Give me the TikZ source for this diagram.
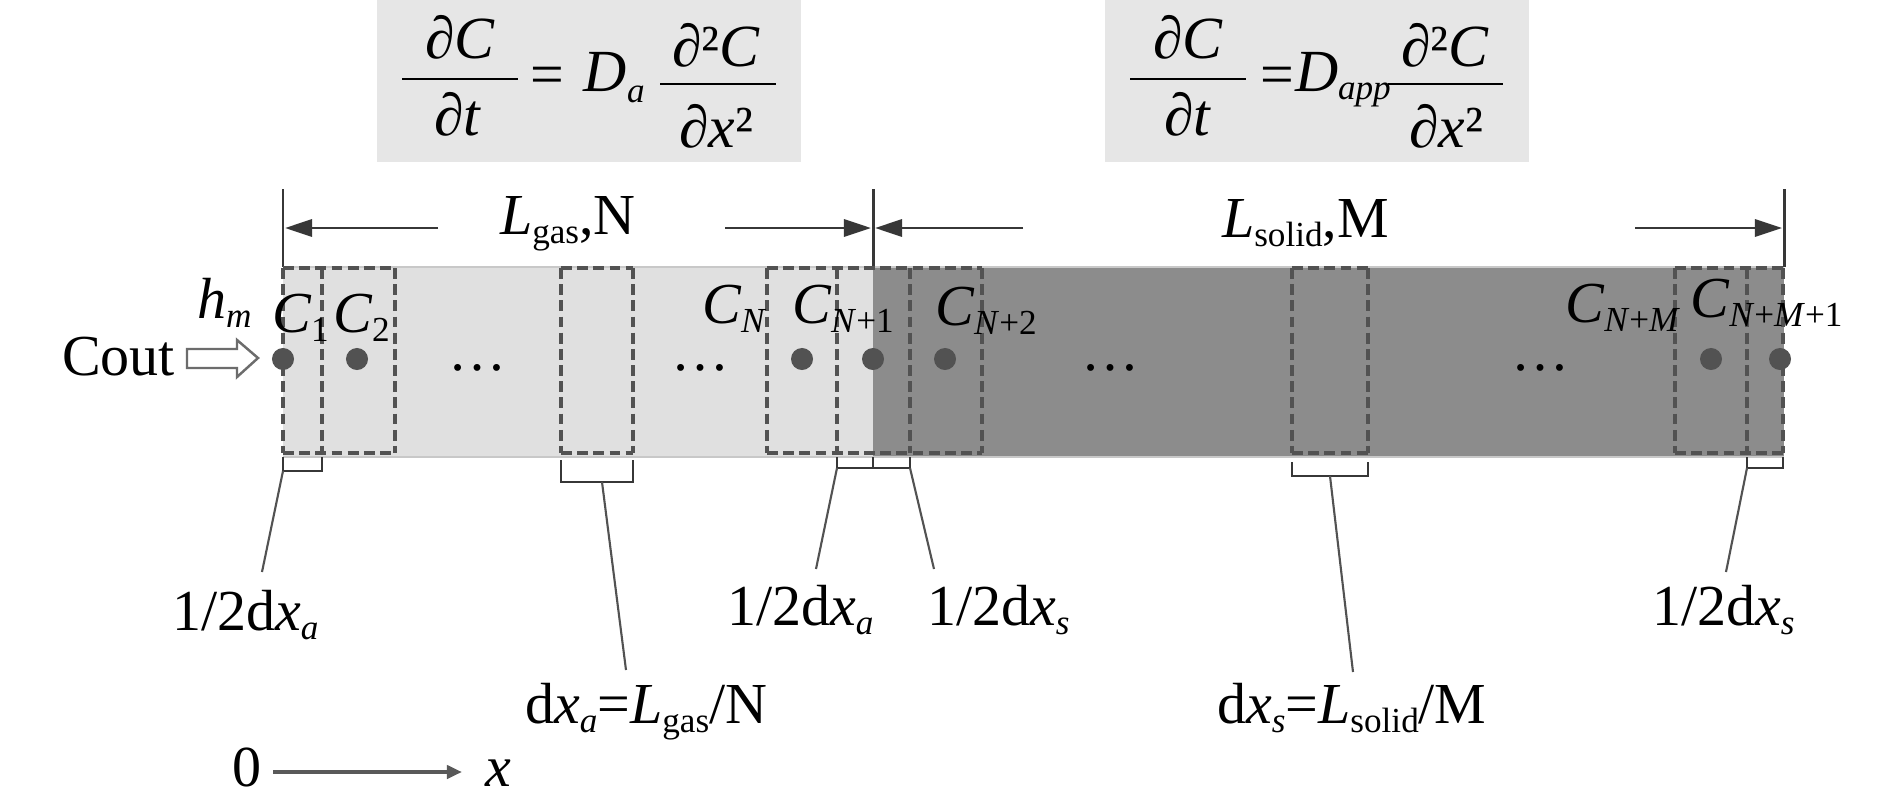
\documentclass[tikz,border=0pt]{standalone}
\usepackage{fontspec}
\setmainfont{Liberation Serif}
\usetikzlibrary{arrows.meta}
\definecolor{lightbar}{RGB}{224,224,224}
\definecolor{darkbar}{RGB}{140,140,140}
\definecolor{eqbg}{RGB}{230,230,230}
\definecolor{dashc}{RGB}{82,82,82}
\definecolor{linec}{RGB}{55,55,55}
\definecolor{edgec}{RGB}{200,200,200}
\newcommand{\mfs}{\fontsize{16.5}{19}\selectfont}
\newcommand{\efs}{\fontsize{17}{20}\selectfont}
\newcommand{\sfs}{\fontsize{10}{12}\selectfont}
\newcommand{\lo}[1]{\raisebox{-0.17em}{\sfs #1}}
\begin{document}
\begin{tikzpicture}[x=0.01cm,y=-0.01cm,
  txt/.style={inner sep=0pt, outer sep=0pt, font=\mfs, text=black},
  eqt/.style={inner sep=0pt, outer sep=0pt, font=\efs, text=black},
  eqbox/.style={fill=eqbg, draw=none},
  eqbar/.style={draw=black, line width=0.75pt},
  cell/.style={draw=dashc, line width=1.25pt, dash pattern=on 3.1pt off 1.5pt},
  dotc/.style={circle, fill=dashc, inner sep=0pt, minimum size=0.22cm},
  dimline/.style={draw=linec, line width=0.85pt},
  dimarrow/.style={dimline, -{Triangle[length=2.7mm,width=1.7mm]}},
  brk/.style={draw=linec, line width=0.8pt},
  leader/.style={draw=dashc, line width=0.6pt},
  hollow/.style={draw=gray!85!black, fill=white, line width=0.7pt}
]
\useasboundingbox (0,0) rectangle (1890,797);
\fill[white] (0,0) rectangle (1890,797);

% equation boxes
\fill[eqbox] (377,0) rectangle (801,162);
\fill[eqbox] (1105,0) rectangle (1529,162);

% left equation
\node[eqt, anchor=base] (e1n) at (460,58) {∂\textit{C}};
\draw[eqbar] (402,79) -- (518,79);
\node[eqt, anchor=base] (e1d) at (458,135) {∂\textit{t}};
\node[eqt, anchor=base] (e1eq) at (547,94) {=};
\node[eqt, anchor=base west] (e1D) at (583,91) {\textit{D}};
\node[txt, font=\sfs, anchor=base west] (e1a) at (627,102) {\textit{a}};
\draw[eqbar] (660,84) -- (776,84);
\node[eqt, anchor=base] (e2n) at (716,66) {∂²\textit{C}};
\node[eqt, anchor=base] (e2d) at (716,147) {∂\textit{x}²};

% right equation
\node[eqt, anchor=base] (e3n) at (1188,58) {∂\textit{C}};
\draw[eqbar] (1130,79) -- (1246,79);
\node[eqt, anchor=base] (e3d) at (1188,135) {∂\textit{t}};
\node[eqt, anchor=base] (e3eq) at (1277,94) {=};
\node[eqt, anchor=base west] (e3D) at (1295,91) {\textit{D}};
\node[txt, font=\sfs, anchor=base west] (e3a) at (1338,100) {\textit{app}};
\draw[eqbar] (1388,84) -- (1503,84);
\node[eqt, anchor=base] (e4n) at (1445,66) {∂²\textit{C}};
\node[eqt, anchor=base] (e4d) at (1446,147) {∂\textit{x}²};

% bar
\fill[lightbar] (283,267) rectangle (873,457);
\fill[darkbar] (873,267) rectangle (1784,457);
\draw[edgec, line width=0.8pt] (283,267) -- (1784,267);
\draw[edgec, line width=0.8pt] (283,457) -- (1784,457);

% dimension lines
\coordinate (v1t) at (283,189); \coordinate (v1b) at (283,267);
\coordinate (v2t) at (873,189); \coordinate (v2b) at (873,267);
\coordinate (v3t) at (1784,189); \coordinate (v3b) at (1784,267);
\draw[dimline] (v1t) -- (v1b);
\draw[dimline] (v2t) -- (v2b);
\draw[dimline] (v3t) -- (v3b);
\coordinate (a1s) at (438,228); \coordinate (a1e) at (285,228);
\coordinate (a2s) at (725,228); \coordinate (a2e) at (871,228);
\coordinate (a3s) at (1023,228); \coordinate (a3e) at (875,228);
\coordinate (a4s) at (1635,228); \coordinate (a4e) at (1782,228);
\draw[dimarrow] (a1s) -- (a1e);
\draw[dimarrow] (a2s) -- (a2e);
\draw[dimarrow] (a3s) -- (a3e);
\draw[dimarrow] (a4s) -- (a4e);
\node[txt, anchor=base west] (Lgas) at (500,234) {\textit{L}\lo{gas},N};
\node[txt, anchor=base west] (Lsol) at (1222,237) {\textit{L}\lo{solid},M};

% cells: vertical edges drawn once each, horizontal edges per group
\foreach \xx in {283,322,395,561,633,767,837,910,982,1292,1368,1675,1747,1783}
  \draw[cell] (\xx,268) -- (\xx,453);
\foreach \xa/\xb in {283/395,561/633,767/982,1292/1368,1675/1783} {
  \draw[cell] (\xa,268) -- (\xb,268);
  \draw[cell] (\xa,453) -- (\xb,453);
}

% nodes (points)
\node[dotc] (d1) at (283,359) {};
\node[dotc] (d2) at (357,359) {};
\node[dotc] (dN) at (802,359) {};
\node[dotc] (dN1) at (873,359) {};
\node[dotc] (dN2) at (945,359) {};
\node[dotc] (dNM) at (1711,359) {};
\node[dotc] (dNM1) at (1780,359) {};

% ellipses
\node[txt, anchor=base] (el1) at (478,370) {…};
\node[txt, anchor=base] (el2) at (701,370) {…};
\node[txt, anchor=base] (el3) at (1111,370) {…};
\node[txt, anchor=base] (el4) at (1540,370) {…};

% concentration labels
\node[txt, anchor=base west] (c1) at (272,332) {\textit{C}\lo{1}};
\node[txt, anchor=base west] (c2) at (333,332) {\textit{C}\lo{2}};
\node[txt, anchor=base west] (cN) at (702,323) {\textit{C}\lo{\textit{N}}};
\node[txt, anchor=base west] (cN1) at (792,323) {\textit{C}\lo{\textit{N}+1}};
\node[txt, anchor=base west] (cN2) at (935,325) {\textit{C}\lo{\textit{N}+2}};
\node[txt, anchor=base west] (cNM) at (1565,322) {\textit{C}\lo{\textit{N}+\textit{M}}};
\node[txt, anchor=base west] (cNM1) at (1690,317) {\textit{C}\lo{\textit{N}+\textit{M}+1}};

% inlet
\node[txt, anchor=base west] (cout) at (62,375) {Cout};
\node[txt, anchor=base west] (hm) at (197,318) {\textit{h}\lo{\textit{m}}};
\draw[hollow] (187,349) -- (237,349) -- (237,340) -- (258,358) -- (237,377) -- (237,368) -- (187,368) -- cycle;

% brackets
\draw[brk] (283,457) -- (283,471) -- (322,471) -- (322,457);
\draw[brk] (561,460) -- (561,482) -- (633,482) -- (633,460);
\draw[brk] (837,457) -- (837,468) -- (910,468) -- (910,457);
\draw[brk] (873,457) -- (873,468);
\draw[brk] (1292,462) -- (1292,476) -- (1368,476) -- (1368,462);
\draw[brk] (1747,457) -- (1747,468) -- (1783,468) -- (1783,457);

% leader ends
\coordinate (b1) at (283,471); \coordinate (t1) at (262,572);
\coordinate (b2) at (602,482); \coordinate (t2) at (626,670);
\coordinate (b3) at (837,468); \coordinate (t3) at (816,569);
\coordinate (b4) at (910,468); \coordinate (t4) at (934,569);
\coordinate (b5) at (1330,476); \coordinate (t5) at (1353,672);
\coordinate (b6) at (1747,468); \coordinate (t6) at (1726,572);
\draw[leader] (b1) -- (t1);
\draw[leader] (b2) -- (t2);
\draw[leader] (b3) -- (t3);
\draw[leader] (b4) -- (t4);
\draw[leader] (b5) -- (t5);
\draw[leader] (b6) -- (t6);

\node[txt, anchor=base west] (h1) at (172,630) {1/2d\textit{x}\lo{\textit{a}}};
\node[txt, anchor=base west] (dxa) at (525,723) {d\textit{x}\lo{\textit{a}}=\textit{L}\lo{gas}/N};
\node[txt, anchor=base west] (h2) at (727,625) {1/2d\textit{x}\lo{\textit{a}}};
\node[txt, anchor=base west] (h3) at (927,625) {1/2d\textit{x}\lo{\textit{s}}};
\node[txt, anchor=base west] (dxs) at (1217,723) {d\textit{x}\lo{\textit{s}}=\textit{L}\lo{solid}/M};
\node[txt, anchor=base west] (h4) at (1652,625) {1/2d\textit{x}\lo{\textit{s}}};

% axis
\node[txt, anchor=base west] (zero) at (232,786) {0};
\node[txt, anchor=base west] (xax) at (485,786) {\textit{x}};
\coordinate (ax0) at (273,772);
\coordinate (ax1) at (462,772);
\draw[draw=gray!70!black, line width=1.1pt, -{Triangle[length=1.5mm,width=1.3mm]}] (ax0) -- (ax1);
\end{tikzpicture}
\end{document}
